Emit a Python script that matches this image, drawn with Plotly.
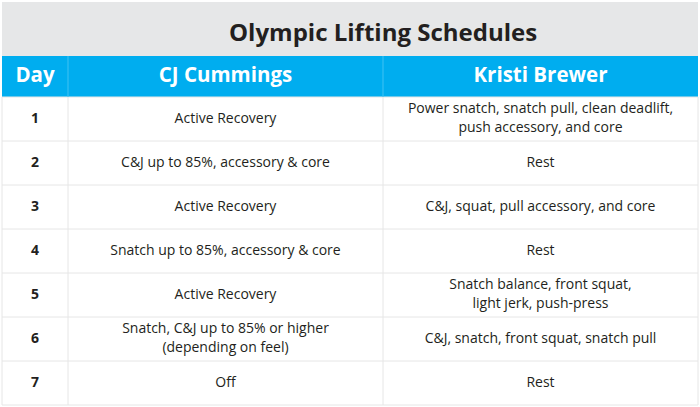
import plotly.graph_objects as go

title = 'Olympic Lifting Schedules'
headers = ['Day', 'CJ Cummings', 'Kristi Brewer']
days = ['1', '2', '3', '4', '5', '6', '7']
cj = ['Active Recovery',
      'C&J up to 85%, accessory & core',
      'Active Recovery',
      'Snatch up to 85%, accessory & core',
      'Active Recovery',
      'Snatch, C&J up to 85% or higher<br>(depending on feel)',
      'Off']
kristi = ['Power snatch, snatch pull, clean deadlift,<br>push accessory, and core',
          'Rest',
          'C&J, squat, pull accessory, and core',
          'Rest',
          'Snatch balance, front squat,<br>light jerk, push-press',
          'C&J, snatch, front squat, snatch pull',
          'Rest']

# page geometry in pixels (axes run 0..700 and 0..407, y downwards)
W, H = 700, 407
col_edges = [2, 68, 383, 698]
title_top, head_top, body_top, row_h = 2, 56, 97, 44
n = len(days)
row_edges = [body_top + row_h * i for i in range(n + 1)]
col_mid = [(a + b) / 2 for a, b in zip(col_edges[:-1], col_edges[1:])]
row_mid = [(a + b) / 2 for a, b in zip(row_edges[:-1], row_edges[1:])]

font = 'Open Sans, sans-serif'
ink = '#231f20'
blue = '#00adef'
grid = '#e6e6e6'

fig = go.Figure()

# body text, one trace per column
for i, (col, bold) in enumerate(zip([days, cj, kristi], [True, False, False])):
    fig.add_trace(go.Scatter(x=[col_mid[i]] * n, y=row_mid, mode='text',
                             text=['<b>%s</b>' % t for t in col] if bold else col,
                             textposition='middle center', hoverinfo='skip',
                             textfont={'family': font, 'size': 14, 'color': ink}))
# header text
fig.add_trace(go.Scatter(x=col_mid, y=[(head_top + body_top) / 2] * 3, mode='text',
                         text=['<b>%s</b>' % h for h in headers], textposition='middle center',
                         hoverinfo='skip', textfont={'family': font, 'size': 20.5, 'color': 'white'}))

shapes = [
    {'type': 'rect', 'x0': col_edges[0], 'x1': col_edges[-1], 'y0': title_top, 'y1': head_top,
     'fillcolor': '#e6e7e8', 'line': {'width': 0}, 'layer': 'below'},
    {'type': 'rect', 'x0': col_edges[0], 'x1': col_edges[-1], 'y0': head_top, 'y1': body_top,
     'fillcolor': blue, 'line': {'width': 0}, 'layer': 'below'},
]
for y in row_edges:
    shapes.append({'type': 'line', 'x0': col_edges[0], 'x1': col_edges[-1], 'y0': y, 'y1': y,
                   'line': {'color': grid, 'width': 1}, 'layer': 'below'})
for x in col_edges:
    shapes.append({'type': 'line', 'x0': x, 'x1': x, 'y0': body_top, 'y1': row_edges[-1],
                   'line': {'color': grid, 'width': 1}, 'layer': 'below'})
for x in col_edges[1:-1]:
    shapes.append({'type': 'line', 'x0': x, 'x1': x, 'y0': head_top, 'y1': body_top,
                   'line': {'color': '#40c2f3', 'width': 1}, 'layer': 'below'})

fig.update_layout(width=W, height=H, margin={'l': 0, 'r': 0, 't': 0, 'b': 0},
                  paper_bgcolor='white', plot_bgcolor='white', showlegend=False,
                  xaxis={'range': [0, W], 'visible': False, 'fixedrange': True},
                  yaxis={'range': [H, 0], 'visible': False, 'fixedrange': True},
                  shapes=shapes,
                  annotations=[{'text': '<b>%s</b>' % title, 'x': (col_edges[0] + col_edges[-1]) / 2 + 33,
                                'y': (title_top + head_top) / 2 + 2, 'showarrow': False,
                                'font': {'family': font, 'size': 24, 'color': ink}}])

fig.write_html('out.html', config={'displayModeBar': False},
               post_script="document.body.style.margin='0';")
